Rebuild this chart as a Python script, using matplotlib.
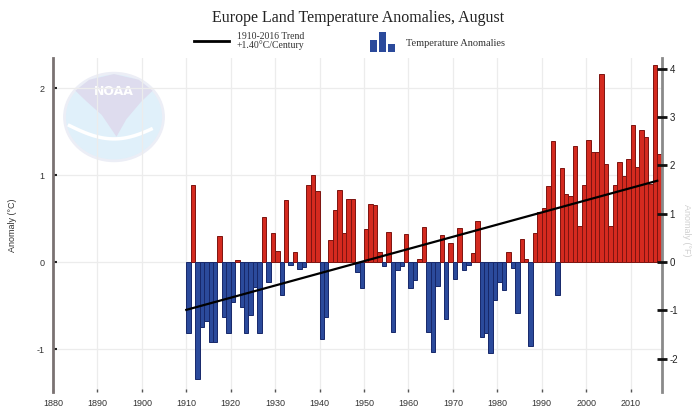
import numpy as np
import matplotlib
matplotlib.use("Agg")
import matplotlib.pyplot as plt
from matplotlib.patches import Circle, Rectangle, Polygon

# ---------------- data ----------------
years = list(range(1910, 2017))
anomalies = [
    -0.82, 0.89, -1.34, -0.75, -0.68, -0.92, -0.92, 0.30, -0.63, -0.82,   # 1910-1919
    -0.46, 0.02, -0.52, -0.82, -0.61, -0.29, -0.82, 0.52, -0.23, 0.33,    # 1920-1929
    0.13, -0.38, 0.71, -0.04, 0.11, -0.08, -0.06, 0.89, 1.00, 0.82,       # 1930-1939
    -0.88, -0.63, 0.25, 0.60, 0.83, 0.33, 0.72, 0.72, -0.11, -0.30,       # 1940-1949
    0.38, 0.67, 0.66, 0.12, -0.05, 0.34, -0.81, -0.09, -0.05, 0.32,       # 1950-1959
    -0.30, -0.21, 0.04, 0.40, -0.80, -1.03, -0.28, 0.31, -0.65, 0.22,     # 1960-1969
    -0.19, 0.39, -0.09, -0.04, 0.10, 0.47, -0.86, -0.82, -1.05, -0.44,    # 1970-1979
    -0.23, -0.32, 0.12, -0.07, -0.59, 0.26, 0.04, -0.97, 0.33, 0.58,      # 1980-1989
    0.62, 0.87, 1.39, -0.38, 1.08, 0.78, 0.76, 1.33, 0.41, 0.89,          # 1990-1999
    1.40, 1.26, 1.26, 2.16, 1.13, 0.41, 0.89, 1.15, 0.99, 1.18,           # 2000-2009
    1.57, 1.09, 1.52, 1.44, 0.90, 2.26, 1.24,                             # 2010-2016
]
trend_start_year = 1910
trend_end_year = 2016
trend_start_value = -0.55
trend_per_century = 1.40

x_ticks = list(range(1880, 2011, 10))
left_ticks = [-1, 0, 1, 2]
right_ticks = [-2, -1, 0, 1, 2, 3, 4]

title = "Europe Land Temperature Anomalies, August"
trend_label = "1910-2016 Trend\n+1.40°C/Century"
bar_label = "Temperature Anomalies"

# ---------------- figure ----------------
W, H = 695, 407
fig = plt.figure(figsize=(W / 100, H / 100), dpi=100)
fig.patch.set_facecolor("white")

def fx(px):
    return px / W

def fy(py):
    return 1 - py / H

# faint NOAA-like logo
logo = fig.add_axes([fx(62), fy(163), fx(104), 92 / H], zorder=0)
logo.set_xlim(-1.05, 1.05)
logo.set_ylim(-1.05, 1.05)
logo.axis("off")
logo.add_patch(Circle((0, 0), 1.0, facecolor="#e0f0fa", edgecolor="#eceef6", lw=2))
logo.add_patch(Polygon([[-0.78, 0.60], [-0.5, 0.85], [0, 0.98], [0.5, 0.85], [0.78, 0.60],
                        [0.55, 0.35], [0.25, -0.05], [0.05, -0.45], [-0.25, 0.05],
                        [-0.55, 0.35]], closed=True, facecolor="#dedcee", edgecolor="none"))
t = np.linspace(-0.9, 0.75, 50)
logo.plot(t, -0.25 - 0.35 * np.cos(t * 1.6) + 0.1, color="white", lw=2.5)
logo.text(0, 0.58, "NOAA", ha="center", va="center", color="white",
          fontsize=9, fontweight="bold", family="DejaVu Sans")

ax = fig.add_axes([fx(53), fy(392), fx(661.7 - 53), (392 - 58) / H], zorder=1)
ax.patch.set_alpha(0)

cols = ["#d42a1f" if v >= 0 else "#2b4a9b" for v in anomalies]
edges = ["#7d1410" if v >= 0 else "#17286a" for v in anomalies]
ax.bar(years, anomalies, width=1.0, align="edge", color=cols, edgecolor=edges,
       linewidth=0.7, zorder=3)

tx = np.array([trend_start_year, trend_end_year], dtype=float)
ty = trend_start_value + trend_per_century / 100 * (tx - trend_start_year)
ax.plot(tx, ty, color="black", lw=1.6, zorder=4)

ax.set_xlim(1880, 2017)
ax.set_ylim(-1.494, 2.345)
ax.set_xticks(x_ticks)
ax.set_xticklabels([str(v) for v in x_ticks])
ax.set_yticks(left_ticks)
ax.set_yticklabels([str(v) for v in left_ticks])
ax.grid(True, color="#ececec", lw=0.9, zorder=0)
ax.set_axisbelow(True)

for s in ["top", "bottom", "right"]:
    ax.spines[s].set_visible(False)
ax.spines["left"].set_color("#7a7272")
ax.spines["left"].set_linewidth(2)

tick_font = ["Liberation Sans Narrow", "Liberation Sans", "DejaVu Sans"]
ax.tick_params(axis="x", direction="in", length=2, width=1, color="#555555",
               pad=5, labelsize=6.5, labelcolor="#333333")
ax.tick_params(axis="y", direction="in", length=3, width=1.5, color="#222222",
               pad=6, labelsize=6.5, labelcolor="#333333")
for lab in ax.get_xticklabels() + ax.get_yticklabels():
    lab.set_family(tick_font)

ax.set_ylabel("Anomaly (°C)", fontsize=6.5, color="#333333", labelpad=14,
              family=tick_font)

# right axis in Fahrenheit
ax2 = ax.twinx()
lo, hi = ax.get_ylim()
ax2.set_ylim(lo * 1.8, hi * 1.8)
ax2.set_yticks(right_ticks)
ax2.set_yticklabels([str(v) for v in right_ticks])
for s in ["top", "bottom", "left"]:
    ax2.spines[s].set_visible(False)
ax2.spines["right"].set_color("#8a8a8a")
ax2.spines["right"].set_linewidth(2)
ax2.spines["right"].set_zorder(1)
ax2.tick_params(axis="y", direction="inout", length=7, width=2, color="#111111",
                pad=2, labelsize=7, labelcolor="#222222")
for lab in ax2.get_yticklabels():
    lab.set_family(tick_font)
fig.text(fx(686), fy(230), "Anomaly (°F)", rotation=270, ha="center", va="center",
         fontsize=6.5, color="#d0d0d0", family=tick_font)

# title and legend
serif = ["Liberation Serif", "DejaVu Serif"]
fig.text(fx(358), fy(18), title, ha="center", va="center", fontsize=11.5,
         family=serif, color="#222222")
fig.add_artist(plt.Line2D([fx(194), fx(229)], [fy(41), fy(41)], color="black",
                          lw=2, transform=fig.transFigure))
fig.text(fx(237), fy(41), trend_label, ha="left", va="center", fontsize=7,
         family=serif, color="#333333", linespacing=1.0)
icon_blue = "#2b4a9b"
for x0, top in [(370, 40), (379, 32), (388, 44)]:
    fig.add_artist(Rectangle((fx(x0), fy(52)), fx(7), (52 - top) / H,
                             transform=fig.transFigure, facecolor=icon_blue,
                             edgecolor="none"))
fig.text(fx(406), fy(43), bar_label, ha="left", va="center", fontsize=7.5,
         family=serif, color="#333333")

fig.savefig("out.png", dpi=100, facecolor="white")
